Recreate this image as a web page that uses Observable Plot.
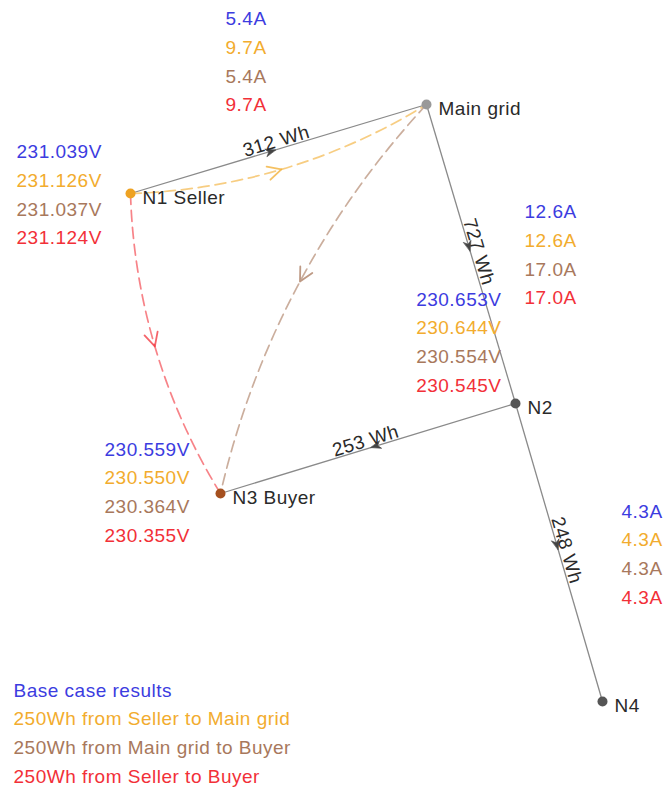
<!DOCTYPE html>
<html><head><meta charset="utf-8">
<script src="https://cdn.jsdelivr.net/npm/d3@7"></script>
<script src="https://cdn.jsdelivr.net/npm/@observablehq/plot@0.6"></script>
<style>
body{margin:0;background:#fff;}
#chart svg{display:block;}
#chart svg text{letter-spacing:0.5px;}
</style></head><body><div id="chart"></div>
<script>
// ---------------- data ----------------
const scenarios = ["Base case results", "250Wh from Seller to Main grid", "250Wh from Main grid to Buyer", "250Wh from Seller to Buyer"];
const nodeNames = ["Main grid", "N1 Seller", "N2", "N3 Buyer", "N4"];
const lineFrom = ["N1 Seller", "Main grid", "N2", "N2"];
const lineTo = ["Main grid", "N2", "N3 Buyer", "N4"];
const lineEnergyWh = [312, 727, 253, 248];
const tradeFrom = ["N1 Seller", "Main grid", "N1 Seller"];   // scenarios 2..4
const tradeTo = ["Main grid", "N3 Buyer", "N3 Buyer"];
const currentMainN1 = [5.4, 9.7, 5.4, 9.7];
const currentMainN2 = [12.6, 12.6, 17.0, 17.0];
const currentN2N4 = [4.3, 4.3, 4.3, 4.3];
const voltageN1 = [231.039, 231.126, 231.037, 231.124];
const voltageN2 = [230.653, 230.644, 230.554, 230.545];
const voltageN3 = [230.559, 230.550, 230.364, 230.355];

// ---------------- layout & style ----------------
const W = 665, H = 791;
const nodePos = {"Main grid": [426, 104], "N1 Seller": [130, 193], "N2": [515, 403], "N3 Buyer": [220, 493], "N4": [602, 701]};
const nodeColor = {"Main grid": "#999999", "N1 Seller": "#eea222", "N2": "#555555", "N3 Buyer": "#a5501f", "N4": "#555555"};
const scenarioColors = ["#3c3ce0", "#f2ac2e", "#a8785c", "#f23038"];
const step = 28.8;
const FONT = 19;
const blocks = [
  {values: currentMainN1, fmt: v => v.toFixed(1) + "A", x: 225, y: 18.5, anchor: "start"},
  {values: voltageN1, fmt: v => v.toFixed(3) + "V", x: 16, y: 151.5, anchor: "start"},
  {values: currentMainN2, fmt: v => v.toFixed(1) + "A", x: 524, y: 211.5, anchor: "start"},
  {values: voltageN2, fmt: v => v.toFixed(3) + "V", x: 501, y: 299, anchor: "end"},
  {values: voltageN3, fmt: v => v.toFixed(3) + "V", x: 104, y: 449, anchor: "start"},
  {values: currentN2N4, fmt: v => v.toFixed(1) + "A", x: 621, y: 511, anchor: "start"}
];
const legendPos = {x: 13, y: 690};
const BEND = 15;       // degrees, arc bulges to the right of travel
const R2D = 180 / Math.PI, D2R = Math.PI / 180;

// ---------------- derived geometry ----------------
const edges = lineFrom.map((f, i) => {
  const [x1, y1] = nodePos[f], [x2, y2] = nodePos[lineTo[i]];
  let ang = Math.atan2(y2 - y1, x2 - x1) * R2D;
  let ta = ang; if (ta > 90) ta -= 180; if (ta < -90) ta += 180;
  const off = 8;
  const mx = (x1 + x2) / 2 + off * Math.sin(ta * D2R);
  const my = (y1 + y2) / 2 - off * Math.cos(ta * D2R);
  const t = 0.49;
  return {x1, y1, x2, y2, ang, ta, mx, my, hx: x1 + t * (x2 - x1), hy: y1 + t * (y2 - y1), label: lineEnergyWh[i] + " Wh"};
});

function arcPoint(p1, p2, bendDeg, t) {
  const dx = p2[0] - p1[0], dy = p2[1] - p1[1];
  const a = Math.atan2(dy, dx), L = Math.hypot(dx, dy), b = bendDeg * D2R;
  const r = L / (2 * Math.sin(b));
  const ang = a + b - b * t, c = 2 * r * Math.sin(b * t);
  return {x: p1[0] + c * Math.cos(ang), y: p1[1] + c * Math.sin(ang), tan: (a + b - 2 * b * t) * R2D};
}
const trades = tradeFrom.map((f, i) => {
  const p1 = nodePos[f], p2 = nodePos[tradeTo[i]];
  const h = arcPoint(p1, p2, BEND, 0.49);
  return {x1: p1[0], y1: p1[1], x2: p2[0], y2: p2[1], color: scenarioColors[i + 1], hx: h.x, hy: h.y, rot: h.tan + 90};
});

const openHead = {draw(ctx, l) {
  const a = 27 * D2R; const w = l * Math.sin(a), h = l * Math.cos(a);
  ctx.moveTo(-w, h); ctx.lineTo(0, 0); ctx.lineTo(w, h);
}};
const stealthHead = {draw(ctx, l) {
  const w = l * 0.38;
  ctx.moveTo(0, 0); ctx.lineTo(-w, l); ctx.lineTo(0, l * 0.7); ctx.lineTo(w, l); ctx.closePath();
}};

const blockMarks = blocks.map(b => Plot.text(b.values, {
  x: () => b.x, y: (d, i) => b.y + i * step, text: b.fmt,
  fill: (d, i) => scenarioColors[i], textAnchor: b.anchor, lineAnchor: "middle", fontSize: FONT
}));

const chart = Plot.plot({
  width: W, height: H, margin: 0,
  x: {domain: [0, W], range: [0, W], axis: null},
  y: {domain: [0, H], range: [0, H], axis: null},
  color: {type: "identity"},
  style: {fontFamily: "'Liberation Sans', Arial, Helvetica, sans-serif", background: "#fff"},
  marks: [
    Plot.link(edges, {x1: "x1", y1: "y1", x2: "x2", y2: "y2", stroke: "#8a8a8a", strokeWidth: 1.3}),
    Plot.arrow(trades, {x1: "x1", y1: "y1", x2: "x2", y2: "y2", bend: -BEND, headLength: 0,
      stroke: "color", strokeWidth: 1.7, strokeOpacity: 0.6, strokeDasharray: "11,6"}),
    Plot.vector(trades, {x: "hx", y: "hy", rotate: "rot", length: 15, shape: openHead, anchor: "start",
      stroke: "color", strokeWidth: 1.8, strokeOpacity: 0.75}),
    Plot.vector(edges, {x: "hx", y: "hy", rotate: d => d.ang + 90, length: 10, shape: stealthHead, anchor: "start",
      fill: "#444", stroke: "#444", strokeWidth: 0.6}),
    Plot.text(edges, {x: "mx", y: "my", text: "label", rotate: "ta", textAnchor: "middle", lineAnchor: "middle",
      fill: "#2a2a2a", fontSize: FONT}),
    Plot.dot(nodeNames, {x: n => nodePos[n][0], y: n => nodePos[n][1], r: 5, fill: n => nodeColor[n]}),
    Plot.text(nodeNames, {x: n => nodePos[n][0], y: n => nodePos[n][1], text: n => n, dx: 12, dy: 4,
      textAnchor: "start", lineAnchor: "middle", fill: "#2a2a2a", fontSize: FONT}),
    ...blockMarks,
    Plot.text(scenarios, {x: () => legendPos.x, y: (d, i) => legendPos.y + i * step, text: d => d,
      fill: (d, i) => scenarioColors[i], textAnchor: "start", lineAnchor: "middle", fontSize: FONT})
  ]
});
document.getElementById("chart").appendChild(chart);
</script></body></html>
